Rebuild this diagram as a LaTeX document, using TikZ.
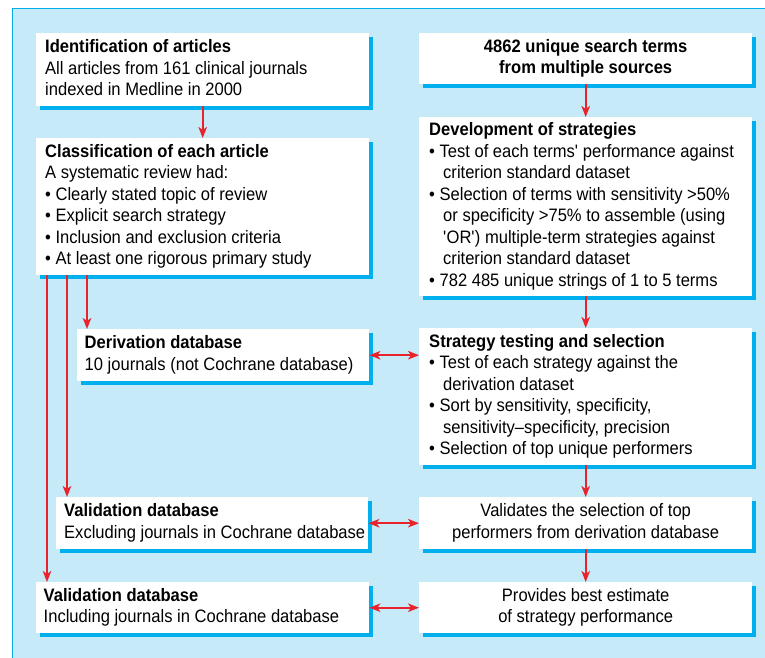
\documentclass[tikz,border=0pt]{standalone}
\usepackage{fontspec}
\setmainfont{Liberation Sans}[FakeStretch=0.92]
\usetikzlibrary{arrows.meta,shadows}
\definecolor{bgblue}{HTML}{C7EAF9}
\definecolor{cyanline}{HTML}{00B0EE}
\definecolor{arrred}{HTML}{E8232B}
\newcommand{\lboxtext}[3]{\makebox[#1][l]{\hspace*{#2}\begin{tabular}{@{}l@{}}#3\end{tabular}}}
\newcommand{\cboxtext}[1]{\begin{tabular}{@{}c@{}}#1\end{tabular}}
\newcommand{\cont}{\hspace*{14pt}}
\begin{document}
\begin{tikzpicture}[x=1pt,y=-1pt,
  box/.style={fill=white, draw=none, anchor=north west, inner sep=0pt,
    font=\fontsize{18}{21.5}\selectfont,
    drop shadow={shadow xshift=3.5pt, shadow yshift=-3.5pt, fill=cyanline, opacity=1}},
  arr/.style={draw=arrred, line width=1.8pt, -{Stealth[length=11pt,width=8.5pt,inset=3pt]}},
  darr/.style={draw=arrred, line width=1.8pt, {Stealth[length=11pt,width=8.5pt,inset=3pt]}-{Stealth[length=11pt,width=8.5pt,inset=3pt]}}
]
\useasboundingbox (0,0) rectangle (765,657);
\fill[bgblue] (12,7.5) rectangle (770,665);
\draw[cyanline, line width=1.4pt] (12.7,665) -- (12.7,8.2) -- (770,8.2);

% left column
\node[box, minimum height=73pt] (A) at (36,33)
  {\lboxtext{333pt}{9pt}{\textbf{Identification of articles}\\All articles from 161 clinical journals\\indexed in Medline in 2000}};
\node[box, minimum height=137pt] (D) at (36,138)
  {\lboxtext{333pt}{9pt}{\textbf{Classification of each article}\\A systematic review had:\\\textbullet\ Clearly stated topic of review\\\textbullet\ Explicit search strategy\\\textbullet\ Inclusion and exclusion criteria\\\textbullet\ At least one rigorous primary study}};
\node[box, minimum height=52pt] (E) at (77,329)
  {\lboxtext{292pt}{7.5pt}{\textbf{Derivation database}\\10 journals (not Cochrane database)}};
\node[box, minimum height=52pt] (G) at (56,497)
  {\lboxtext{312pt}{8pt}{\textbf{Validation database}\\Excluding journals in Cochrane database}};
\node[box, minimum height=51pt] (H) at (36,582)
  {\lboxtext{333pt}{7.5pt}{\textbf{Validation database}\\Including journals in Cochrane database}};

% right column
\node[box, minimum width=333pt, minimum height=51pt] (B) at (419,33)
  {\cboxtext{\textbf{4862 unique search terms}\\\textbf{from multiple sources}}};
\node[box, minimum height=179pt] (C) at (419,117)
  {\lboxtext{333pt}{10pt}{\textbf{Development of strategies}\\
   \textbullet\ Test of each terms\textquotesingle\ performance against\\\cont criterion standard dataset\\
   \textbullet\ Selection of terms with sensitivity >50\%\\\cont or specificity >75\% to assemble (using\\\cont \textquotesingle OR\textquotesingle) multiple-term strategies against\\\cont criterion standard dataset\\
   \textbullet\ 782 485 unique strings of 1 to 5 terms}};
\node[box, minimum height=137pt] (F) at (419,328)
  {\lboxtext{333pt}{10pt}{\textbf{Strategy testing and selection}\\
   \textbullet\ Test of each strategy against the\\\cont derivation dataset\\
   \textbullet\ Sort by sensitivity, specificity,\\\cont sensitivity–specificity, precision\\
   \textbullet\ Selection of top unique performers}};
\node[box, minimum width=333pt, minimum height=52pt] (I) at (419,497)
  {\cboxtext{Validates the selection of top\\performers from derivation database}};
\node[box, minimum width=333pt, minimum height=51pt] (J) at (419,582)
  {\cboxtext{Provides best estimate\\of strategy performance}};

% vertical connectors
\draw[arr] (A.south) -- (D.north);
\draw[arr] (B.south) -- (C.north);
\draw[arr] (C.south) -- (F.north);
\draw[arr] (F.south) -- (I.north);
\draw[arr] (I.south) -- (J.north);

\coordinate (d1) at ([xshift=51pt]D.south west);
\coordinate (d2) at ([xshift=31pt]D.south west);
\coordinate (d3) at ([xshift=11pt]D.south west);
\draw[arr] (d1) -- (d1 |- E.north);
\draw[arr] (d2) -- (d2 |- G.north);
\draw[arr] (d3) -- (d3 |- H.north);

% horizontal double arrows
\draw[darr] (E.east) -- (E.east -| F.west);
\draw[darr] (G.east) -- (G.east -| I.west);
\draw[darr] (H.east) -- (H.east -| J.west);
\end{tikzpicture}
\end{document}
